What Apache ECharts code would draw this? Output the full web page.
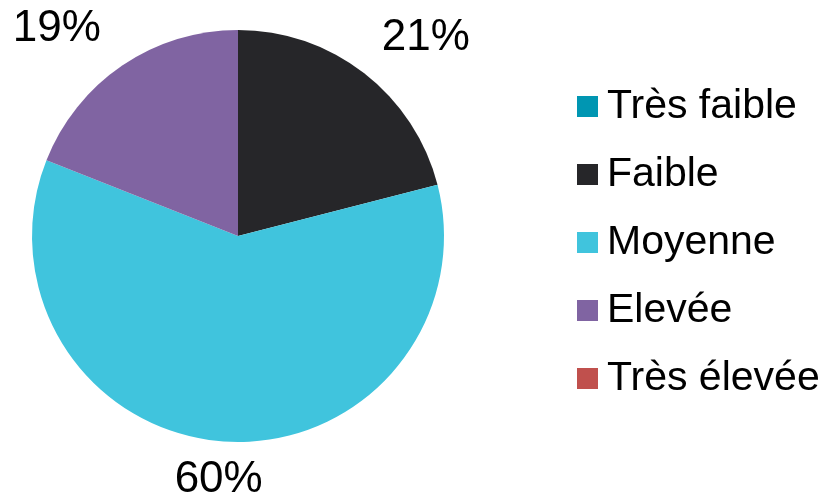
<!DOCTYPE html>
<html>
<head>
<meta charset="utf-8">
<script src="https://cdn.jsdelivr.net/npm/echarts@6/dist/echarts.min.js"></script>
<style>
html,body{margin:0;padding:0;background:#fff;}
#chart{width:825px;height:499px;}
</style>
</head>
<body>
<div id="chart"></div>
<script>
const categories = ['Très faible', 'Faible', 'Moyenne', 'Elevée', 'Très élevée'];
const values = [0, 21, 60, 19, 0];
const colors = ['#0096B2', '#262629', '#40C4DD', '#8064A2', '#C0504D'];
// per-item label placement tweaks (style only)
const labelDistance = [4, -10, 4, -4, 4];
const labelLineLength = [45, 45, 38, 45, 45];

const chart = echarts.init(document.getElementById('chart'));
const data = categories.map((name, i) => ({
  name: name,
  value: values[i],
  itemStyle: { color: colors[i] },
  label: { show: values[i] > 0, distanceToLabelLine: labelDistance[i] },
  labelLine: { show: false, length: labelLineLength[i], length2: 0 }
}));

chart.setOption({
  animation: false,
  legend: {
    orient: 'vertical',
    left: 577,
    top: 86,
    padding: 0,
    itemWidth: 21,
    itemHeight: 21,
    itemGap: 27,
    icon: 'rect',
    textStyle: { fontFamily: 'Liberation Sans', fontSize: 41, color: '#000', padding: [0, 0, 0, 4] },
    data: categories
  },
  series: [{
    type: 'pie',
    center: [238, 236],
    radius: [0, 206],
    startAngle: 90,
    clockwise: true,
    avoidLabelOverlap: false,
    itemStyle: { borderWidth: 0 },
    label: {
      show: true,
      position: 'outside',
      formatter: '{c}%',
      fontFamily: 'Liberation Sans',
      fontSize: 44,
      color: '#000'
    },
    labelLine: { show: false, length: 45, length2: 0 },
    labelLayout: function (p) {
      if (p.dataIndex === 2) return { align: 'center' };
      return {};
    },
    data: data
  }]
});
</script>
</body>
</html>
